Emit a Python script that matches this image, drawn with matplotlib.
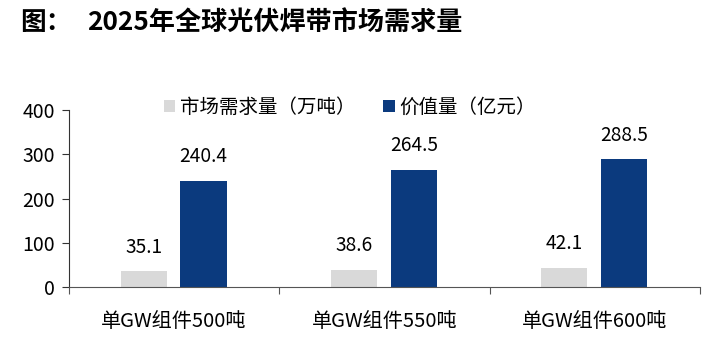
import matplotlib.pyplot as plt
import numpy as np

plt.rcParams['font.family'] = ['Noto Sans CJK SC', 'DejaVu Sans']

categories = ['单GW组件500吨', '单GW组件550吨', '单GW组件600吨']
demand = [35.1, 38.6, 42.1]      # 市场需求量（万吨）
value = [240.4, 264.5, 288.5]    # 价值量（亿元）

gray = '#D9D9D9'
blue = '#0B3A7E'

fig = plt.figure(figsize=(7.17, 3.4), dpi=100)
ax = fig.add_axes([0.0962, 0.156, 0.880, 0.52])

x = np.arange(len(categories))
w = 0.22
b1 = ax.bar(x - 0.145, demand, w, color=gray, label='市场需求量（万吨）')
b2 = ax.bar(x + 0.14, value, w, color=blue, label='价值量（亿元）')

for rect, v in zip(list(b1) + list(b2), demand + value):
    ax.annotate(f'{v:.1f}', (rect.get_x() + rect.get_width() / 2, v),
                xytext=(0, 10), textcoords='offset points',
                ha='center', va='bottom', fontsize=13.8)

ax.set_xlim(-0.5, 2.5)
ax.set_ylim(0, 400)
ax.set_yticks([0, 100, 200, 300, 400])
ax.tick_params(axis='y', labelsize=14, length=5, direction='out', pad=5,
               color='#333333')

ax.set_xticks([-0.5, 0.5, 1.5, 2.5])
ax.set_xticklabels([])
ax.tick_params(axis='x', which='major', length=5, direction='out', color='#555555')
ax.set_xticks(x, minor=True)
ax.set_xticklabels(categories, minor=True, fontsize=14.5)
ax.tick_params(axis='x', which='minor', length=0, pad=17)

for s in ['top', 'right']:
    ax.spines[s].set_visible(False)
ax.spines['bottom'].set_color('#555555')
ax.spines['left'].set_color('#333333')

fig.legend(loc='center', bbox_to_anchor=(0.488, 0.685), ncol=2, frameon=False,
           fontsize=14, handlelength=0.6, handleheight=0.6, handletextpad=0.25,
           columnspacing=1.4)

fig.text(0.028, 0.935, '图：', fontsize=18.5, fontweight='bold',
         ha='left', va='center')
fig.text(0.121, 0.935, '2025年全球光伏焊带市场需求量', fontsize=18.8,
         fontweight='bold', ha='left', va='center')

fig.savefig('out.png', dpi=100)
